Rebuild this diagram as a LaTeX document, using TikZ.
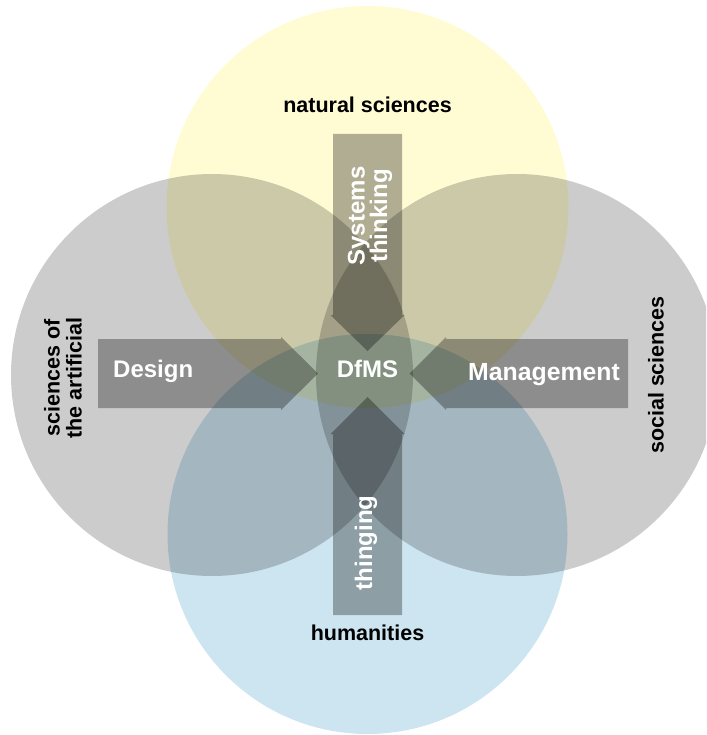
\documentclass[tikz,border=0pt]{standalone}
\usepackage{fontspec}
\setmainfont{Liberation Sans}
\usetikzlibrary{positioning}
\definecolor{natyellow}{RGB}{255,252,212}
\definecolor{humblue}{RGB}{205,229,240}
\definecolor{lensgreen}{RGB}{205,226,200}
\tikzset{
    %Define style for the field circles
    field/.style={
           fill=black,
           fill opacity=0.2},
    %Define style for block arrows
    pfeil/.style={
           fill=black,
           fill opacity=0.31},
    %Define style for texts
    fieldlabel/.style={
           font=\bfseries\fontsize{21.5}{22}\selectfont,
           text=black,
           align=center,
           inner sep=0pt},
    arrowlabel/.style={
           font=\bfseries\fontsize{24}{22.5}\selectfont,
           text=white,
           align=center,
           inner sep=0pt}
}
\begin{document}
\begin{tikzpicture}[x=1pt,y=-1pt]
\clip (0,0) rectangle (706,735);
 %circle centres
\coordinate (nat) at (367.5,207);
\coordinate (hum) at (367.5,534);
\coordinate (art) at (212,375);
\coordinate (soc) at (517,375);
 %circles
\fill[natyellow] (nat) circle[radius=201pt];
\fill[humblue] (hum) circle[radius=200pt];
\begin{scope}
\clip (nat) circle[radius=201pt];
\fill[lensgreen] (hum) circle[radius=200pt];
\end{scope}
\fill[field] (art) circle[radius=201pt];
\fill[field] (soc) circle[radius=201pt];
 %arrows
\fill[pfeil] (333,134) -- (402,134) -- (402,315) -- (404.5,315) -- (367.5,351)
    -- (330.5,315) -- (333,315) -- cycle;
\fill[pfeil] (333,615) -- (402,615) -- (402,434) -- (404.5,434) -- (367.5,397)
    -- (330.5,434) -- (333,434) -- cycle;
\fill[pfeil] (98,339) -- (281,339) -- (281,337) -- (318,373.5) -- (281,410)
    -- (281,408) -- (98,408) -- cycle;
\fill[pfeil] (628,339) -- (446,339) -- (446,337) -- (409.5,373.5) -- (446,410)
    -- (446,408) -- (628,408) -- cycle;
 %labels
\node[fieldlabel] (natlabel) at (367.5,105) {natural sciences};
\node[fieldlabel] (humlabel) at (367.5,633) {humanities};
\node[fieldlabel, rotate=90] (artlabel) at (63,378) {sciences of\\the artificial};
\node[fieldlabel, rotate=90] (soclabel) at (656,375) {social sciences};
\node[arrowlabel, rotate=90] (systems) at (370,216) {Systems\\thinking};
\node[arrowlabel, rotate=90] (thinging) at (366,543) {thinging};
\node[arrowlabel, anchor=base west] (design) at (113,377) {Design};
\node[arrowlabel, anchor=base] (dfms) at (367.5,377) {DfMS};
\node[arrowlabel, anchor=base east, font=\bfseries\fontsize{24.8}{22.5}\selectfont]
    (management) at (620,380) {Management};
\end{tikzpicture}
\end{document}
